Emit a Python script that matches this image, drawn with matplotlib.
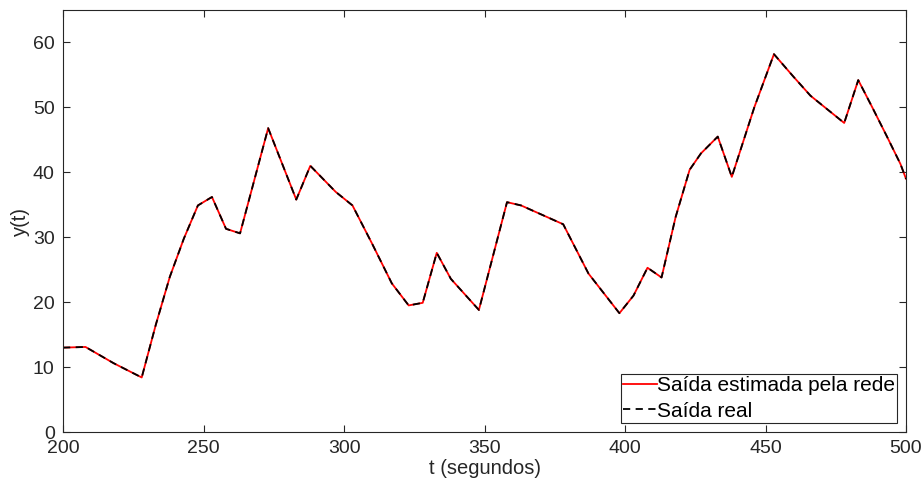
import numpy as np
import matplotlib.pyplot as plt

plt.rcParams['font.family'] = ['Liberation Sans', 'DejaVu Sans']

# sample instants (s) and output values
t = [200, 208, 218, 228, 233, 238, 243, 248, 253, 258, 263, 273, 283, 288, 297,
     303, 310, 317, 323, 328, 333, 338, 348, 358, 363, 378, 387, 398, 403, 408,
     413, 418, 423, 427, 433, 438, 446, 453, 460, 466, 478, 483, 488, 493, 498, 500]
y_real = [13.0, 13.1, 10.6, 8.4, 16.5, 23.9, 29.8, 34.9, 36.2, 31.3, 30.6, 46.8, 35.8, 41.0, 37.0,
          34.9, 29.0, 22.9, 19.5, 19.9, 27.6, 23.6, 18.8, 35.4, 34.9, 32.0, 24.4, 18.3, 21.0, 25.3,
          23.8, 33.1, 40.4, 42.9, 45.5, 39.3, 50.0, 58.2, 54.7, 51.8, 47.6, 54.2, 50.0, 45.7, 41.3, 39.0]
y_est = list(y_real)  # network output overlaps the real output

label_est = 'Saída estimada pela rede'
label_real = 'Saída real'

fig = plt.figure(figsize=(9.23, 4.93), dpi=100)
ax = fig.add_axes([0.0683, 0.1237, 0.9133, 0.856])

ax.plot(t, y_est, color='red', lw=1.3, label=label_est)
ax.plot(t, y_real, color='black', lw=1.3, ls=(0, (4, 3)), label=label_real)

ax.set_xlim(200, 500)
ax.set_ylim(0, 65)
ax.set_xticks(np.arange(200, 501, 50))
ax.set_yticks(np.arange(0, 61, 10))

gray = '#262626'
for s in ax.spines.values():
    s.set_color(gray)
    s.set_linewidth(0.8)
ax.tick_params(direction='in', top=True, right=True, length=5, width=0.8,
               colors=gray, labelsize=14, pad=6)
ax.set_xlabel('t (segundos)', fontsize=14.5, color=gray, labelpad=1)
ax.set_ylabel('y(t)', fontsize=14.5, color=gray, labelpad=2)

leg = ax.legend(loc='lower right', fontsize=15, handlelength=1.6, handletextpad=0.0,
                borderpad=0.1, labelspacing=0.3, borderaxespad=0.45,
                fancybox=False, framealpha=1, edgecolor=gray)
leg.get_frame().set_linewidth(0.8)

fig.savefig('out.png', dpi=100)
